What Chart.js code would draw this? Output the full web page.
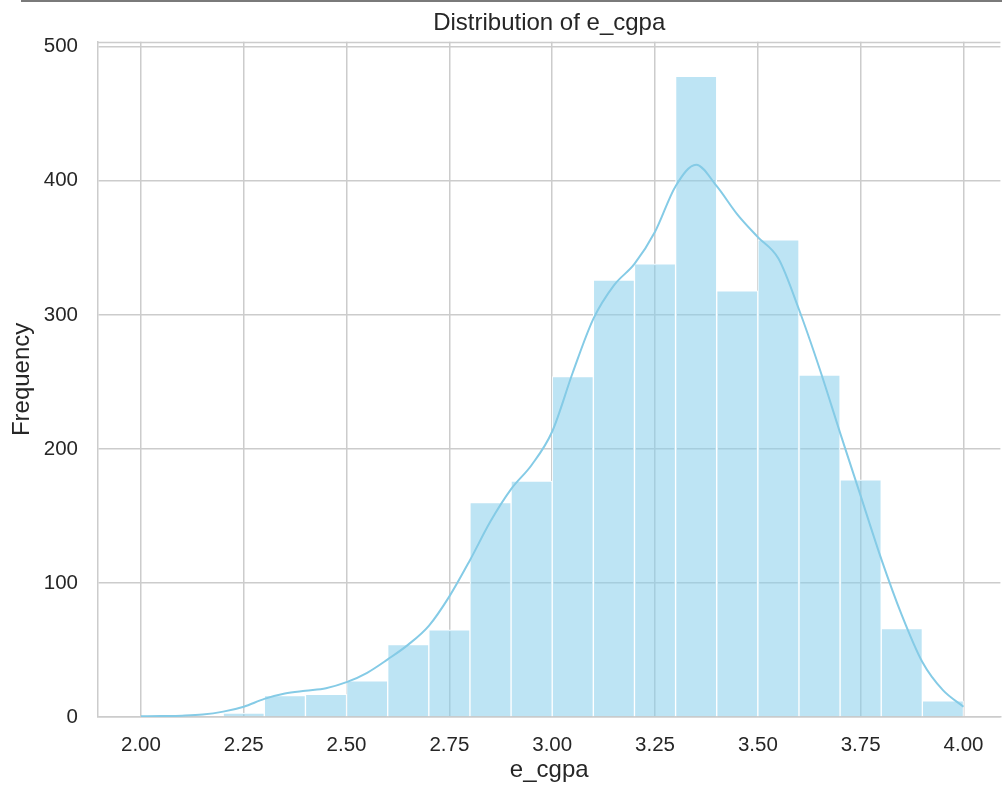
<!DOCTYPE html>
<html>
<head>
<meta charset="utf-8">
<script src="https://cdn.jsdelivr.net/npm/chart.js@4.4.1/dist/chart.umd.min.js"></script>
<style>
  html, body { margin: 0; padding: 0; background: #ffffff; }
  #wrap { position: relative; width: 1002px; height: 787px; }
  #topline { position: absolute; left: 21px; right: 0; top: 0; height: 2px; background: #7a7a7a; }
  canvas { display: block; }
</style>
</head>
<body>
<div id="wrap">
  <canvas id="c" width="1002" height="787"></canvas>
  <div id="topline"></div>
</div>
<script>
// Histogram bins (centres, width 0.1) and counts
const binCenters = [2.25, 2.35, 2.45, 2.55, 2.65, 2.75, 2.85, 2.95, 3.05, 3.15, 3.25, 3.35, 3.45, 3.55, 3.65, 3.75, 3.85, 3.95];
const binCounts  = [3, 16, 17, 27, 54, 65, 160, 176, 254, 326, 338, 478, 318, 356, 255, 177, 66, 12];

// KDE curve (scaled to counts)
const kdeX = [2.00, 2.05, 2.10, 2.15, 2.20, 2.25, 2.30, 2.35, 2.40, 2.45, 2.50, 2.55, 2.60, 2.65, 2.70, 2.75, 2.80, 2.85, 2.90, 2.95,
              3.00, 3.05, 3.10, 3.15, 3.20, 3.25, 3.30, 3.35, 3.40, 3.45, 3.50, 3.55, 3.60, 3.65, 3.70, 3.75, 3.80, 3.85, 3.90, 3.95, 4.00];
const kdeY = [0.5, 0.7, 1, 1.8, 4, 7.7, 13.5, 17.5, 19.6, 21.5, 26, 33, 43, 54, 68, 90, 117, 146, 170, 188,
              213, 257, 297, 322, 338, 362, 396, 412, 396, 375, 358, 342, 304, 260, 212, 165, 118, 76, 41, 20, 7.7];

// Tick labels
const xTicks = [2.00, 2.25, 2.50, 2.75, 3.00, 3.25, 3.50, 3.75, 4.00];
const yTicks = [0, 100, 200, 300, 400, 500];

const FONT = "'Liberation Sans', Arial, sans-serif";
const TXT = '#262626';
const GRID = '#cccccc';

const frame = {
  id: 'frame',
  afterDatasetsDraw(chart) {
    const a = chart.chartArea, ctx = chart.ctx;
    ctx.save();
    ctx.strokeStyle = GRID;
    ctx.lineWidth = 1.5;
    ctx.beginPath();
    ctx.moveTo(a.left, Math.round(a.top) + 0.5);
    ctx.lineTo(a.right, Math.round(a.top) + 0.5);
    ctx.stroke();
    ctx.restore();
  }
};

new Chart(document.getElementById('c'), {
  data: {
    datasets: [
      {
        type: 'line',
        data: kdeX.map((x, i) => ({ x: x, y: kdeY[i] })),
        borderColor: '#85cbe6',
        borderWidth: 2,
        pointRadius: 0,
        tension: 0.4,
        cubicInterpolationMode: 'monotone',
        fill: false,
        order: 0
      },
      {
        type: 'bar',
        data: binCenters.map((x, i) => ({ x: x, y: binCounts[i] })),
        backgroundColor: 'rgba(135,206,235,0.55)',
        borderColor: '#ffffff',
        borderWidth: 1,
        barPercentage: 1,
        categoryPercentage: 1,
        order: 1
      }
    ]
  },
  options: {
    responsive: false,
    animation: false,
    events: [],
    layout: { padding: { left: 8, right: 0, top: 4, bottom: 2 } },
    plugins: {
      legend: { display: false },
      tooltip: { enabled: false },
      title: {
        display: true,
        fullSize: false,
        text: 'Distribution of e_cgpa',
        color: TXT,
        font: { family: FONT, size: 24, weight: 'normal' },
        padding: { top: 5, bottom: 4 }
      }
    },
    scales: {
      x: {
        type: 'linear',
        offset: false,
        min: 1.8956,
        max: 4.0898,
        afterBuildTicks: s => { s.ticks = xTicks.map(v => ({ value: v })); },
        afterFit: s => { s.height = 68; },
        ticks: {
          color: TXT,
          font: { family: FONT, size: 20.5, lineHeight: 1.0 },
          padding: 18.5,
          callback: v => Number(v).toFixed(2)
        },
        grid: { color: GRID, lineWidth: 1.5, drawTicks: false, offset: false },
        border: { color: GRID, width: 1.5 },
        title: {
          display: true, text: 'e_cgpa', color: TXT,
          font: { family: FONT, size: 24 },
          padding: { top: 0, bottom: 0 }
        }
      },
      y: {
        type: 'linear',
        min: 0,
        max: 503.7,
        afterBuildTicks: s => { s.ticks = yTicks.map(v => ({ value: v })); },
        afterFit: s => { s.width = 90; },
        ticks: {
          color: TXT,
          font: { family: FONT, size: 20.5 },
          padding: 20
        },
        grid: { color: GRID, lineWidth: 1.5, drawTicks: false },
        border: { color: GRID, width: 1.5 },
        title: {
          display: true, text: 'Frequency', color: TXT,
          font: { family: FONT, size: 24 },
          padding: { top: 0, bottom: 0 }
        }
      }
    }
  },
  plugins: [frame]
});
</script>
</body>
</html>
